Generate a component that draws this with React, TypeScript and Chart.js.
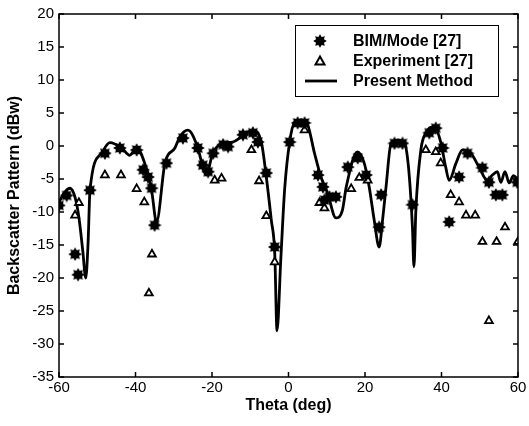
import React, { useEffect, useRef } from 'react';
import { Chart, registerables } from 'chart.js';

Chart.register(...registerables);

// ---- Data ----
const lineTheta = [
  -60, -58.5, -57.1, -55.8, -54.8, -53.8, -53.0, -52.4, -51.9, -48.9, -46.7, -43.6, -41.5, -39.7,
  -37.6, -35.8, -34.5, -32.3, -29.7, -28.4, -26.3, -23.7, -22.4, -21.5, -19.8, -17.2, -14.6,
  -12.3, -9.4, -7.1, -5.8, -4.5, -3.6, -3.0, -2.0, -1.0, 0.3, 1.6, 3.3, 5.0, 6.8, 8.5, 10.2,
  12.4, 14.1, 15.1, 18.0, 19.8, 21.1, 22.4, 23.7, 24.6, 25.5, 26.8, 28.4, 30.0, 30.7, 31.6,
  32.4, 32.8, 33.3, 34.6, 35.9, 38.1, 39.8, 41.1, 42.0, 43.8, 45.5, 47.7, 49.8, 52.0, 53.3,
  54.6, 55.5, 56.6, 57.7, 58.8, 60,
];
const lineDb = [
  -8.5, -7.0, -6.4, -7.8, -10.8, -15.8, -20.0, -14.7, -6.7, -1.1, 0.5, -0.3, -1.4, -0.3,
  -2.6, -6.7, -11.5, -2.6, -0.3, 1.4, 2.4, -0.3, -3.2, -4.4, -1.1, 0.4, 0.6,
  1.4, 2.4, 0.6, -4.7, -11.2, -16.2, -28.0, -17.0, -6.5, 0.6, 3.6, 3.9, 3.2, -1.1, -4.7, -7.1,
  -10.9, -9.7, -6.2, -0.9, -2.6, -6.2, -11.2, -15.3, -11.2, -6.2, 0.4, 0.9, 0.6, -0.2, -4.7,
  -12.3, -18.3, -9.7, -0.6, 2.0, 2.9, 0.6, -3.2, -5.2, -2.6, -0.6, -1.1, -3.2, -5.2, -4.4,
  -3.9, -5.5, -3.9, -5.6, -4.5, -5.2,
];

const bimTheta = [
  -60, -58, -55.8, -55, -51.9, -48, -44.1, -39.7, -38, -36.7, -35.8, -35, -31.9, -27.6, -23.7,
  -22.4, -21.0, -19.7, -17.1, -15.8, -11.9, -9.3, -8.0, -5.8, -3.6, 0.3, 2.4, 4.2, 7.7, 9.0,
  9.4, 10.7, 12.4, 15.5, 18.1, 20.3, 23.7, 24.2, 27.7, 29.8, 32.4, 36.8, 38.5, 40.3, 42.0,
  44.6, 46.8, 50.7, 52.4, 54.2, 55.9, 59.8,
];
const bimDb = [
  -9, -7.5, -16.4, -19.5, -6.7, -1.1, -0.3, -0.6, -3.6, -4.7, -6.4, -12, -2.6, 1.2, -0.3,
  -2.9, -3.9, -1.1, 0.2, -0.1, 1.7, 2.0, 0.6, -4.1, -15.3, 0.6, 3.5, 3.5, -4.4, -6.2,
  -8.2, -7.7, -7.7, -3.2, -1.8, -4.4, -12.3, -7.4, 0.4, 0.4, -8.9, 2.0, 2.7, -0.3, -11.5,
  -4.7, -1.1, -3.3, -5.5, -7.4, -7.4, -5.5,
];

const expTheta = [
  -55.8, -54.8, -48, -43.8, -39.7, -37.7, -36.5, -35.7, -19.3, -17.5, -9.7, -7.7, -5.8, -3.6,
  4.2, 8.1, 9.4, 16.4, 18.5, 20.7, 35.9, 38.5, 39.8, 42.4, 44.6, 46.4, 48.8, 50.7, 52.4,
  54.4, 56.6, 60,
];
const expDb = [
  -10.5, -8.6, -4.4, -4.4, -6.5, -8.5, -22.3, -16.4, -5.2, -4.9, -0.6, -5.3, -10.6, -17.6,
  2.4, -8.6, -9.4, -6.5, -4.8, -5.2, -0.6, -0.9, -2.6, -7.4, -8.5, -10.5, -10.5, -14.5, -26.5,
  -14.5, -12.3, -14.5,
];

const xTicks = [-60, -40, -20, 0, 20, 40, 60];
const yTicks = [20, 15, 10, 5, 0, -5, -10, -15, -20, -25, -30, -35];

const seriesLabels = ['BIM/Mode [27]', 'Experiment [27]', 'Present Method'];

const FONT = "'Liberation Sans', Arial, Helvetica, sans-serif";

function makeStar(): HTMLCanvasElement {
  const c = document.createElement('canvas');
  c.width = 14;
  c.height = 14;
  const g = c.getContext('2d')!;
  g.fillStyle = '#000';
  g.beginPath();
  const cx = 7, cy = 7, ro = 6.8, ri = 4.3;
  for (let i = 0; i < 16; i++) {
    const r = i % 2 === 0 ? ro : ri;
    const a = (Math.PI / 8) * i - Math.PI / 2;
    const px = cx + r * Math.cos(a);
    const py = cy + r * Math.sin(a);
    if (i === 0) g.moveTo(px, py);
    else g.lineTo(px, py);
  }
  g.closePath();
  g.fill();
  return c;
}

const boxTicksPlugin = {
  id: 'boxTicks',
  afterDatasetsDraw(chart: any) {
    const { ctx, chartArea: a, scales } = chart;
    ctx.save();
    ctx.strokeStyle = '#000';
    ctx.lineWidth = 1.5;
    ctx.strokeRect(a.left, a.top, a.right - a.left, a.bottom - a.top);
    const L = 5;
    ctx.beginPath();
    xTicks.forEach((v) => {
      const px = scales.x.getPixelForValue(v);
      ctx.moveTo(px, a.bottom);
      ctx.lineTo(px, a.bottom - L);
      ctx.moveTo(px, a.top);
      ctx.lineTo(px, a.top + L);
    });
    yTicks.forEach((v) => {
      const py = scales.y.getPixelForValue(v);
      ctx.moveTo(a.left, py);
      ctx.lineTo(a.left + L, py);
      ctx.moveTo(a.right, py);
      ctx.lineTo(a.right - L, py);
    });
    ctx.stroke();
    ctx.restore();
  },
};

const legendBoxPlugin = {
  id: 'legendBox',
  afterDraw(chart: any) {
    const { ctx, chartArea: a } = chart;
    const left = a.right - 223;
    const top = a.top + 11;
    const w = 203;
    const h = 71;
    ctx.save();
    ctx.fillStyle = '#fff';
    ctx.fillRect(left, top, w, h);
    ctx.strokeStyle = '#000';
    ctx.lineWidth = 1;
    ctx.strokeRect(left + 0.5, top + 0.5, w, h);
    const ds = chart.data.datasets;
    ds.forEach((d: any, i: number) => {
      const y = top + 16 + i * 20;
      const mx = left + 25;
      if (i === 0) {
        ctx.drawImage(d.pointStyle, mx - 7, y - 7);
      } else if (i === 1) {
        ctx.beginPath();
        ctx.moveTo(mx, y - 4.5);
        ctx.lineTo(mx + 4.5, y + 3.5);
        ctx.lineTo(mx - 4.5, y + 3.5);
        ctx.closePath();
        ctx.fillStyle = '#fff';
        ctx.fill();
        ctx.lineWidth = 2;
        ctx.stroke();
      } else {
        ctx.beginPath();
        ctx.lineWidth = 2.8;
        ctx.moveTo(left + 10, y);
        ctx.lineTo(left + 42, y);
        ctx.stroke();
      }
      ctx.fillStyle = '#000';
      ctx.font = `bold 16px ${FONT}`;
      ctx.textBaseline = 'middle';
      ctx.textAlign = 'left';
      ctx.fillText(d.label, left + 58, y + 1);
    });
    ctx.restore();
  },
};

export default function App() {
  const ref = useRef<HTMLCanvasElement>(null);

  useEffect(() => {
    document.body.style.margin = '0';
    const canvas = ref.current!;
    const star = makeStar();
    const chart = new Chart(canvas, {
      type: 'line',
      data: {
        datasets: [
          {
            label: seriesLabels[0],
            data: bimTheta.map((x, i) => ({ x, y: bimDb[i] })),
            showLine: false,
            pointStyle: star as any,
            pointRadius: 7,
            borderColor: '#000',
            backgroundColor: '#000',
            order: 0,
          },
          {
            label: seriesLabels[1],
            data: expTheta.map((x, i) => ({ x, y: expDb[i] })),
            showLine: false,
            pointStyle: 'triangle',
            pointRadius: 4.5,
            pointBorderWidth: 1.8,
            borderColor: '#000',
            pointBackgroundColor: '#fff',
            backgroundColor: '#fff',
            order: 1,
          },
          {
            label: seriesLabels[2],
            data: lineTheta.map((x, i) => ({ x, y: lineDb[i] })),
            borderColor: '#000',
            borderWidth: 2.8,
            pointRadius: 0,
            fill: false,
            cubicInterpolationMode: 'monotone',
            order: 2,
          },
        ],
      },
      options: {
        responsive: false,
        animation: false,
        devicePixelRatio: 1,
        layout: { padding: { top: 14, right: 11, left: 0, bottom: 0 } },
        plugins: {
          legend: { display: false },
          tooltip: { enabled: false },
        },
        scales: {
          x: {
            type: 'linear',
            min: -60,
            max: 60,
            afterBuildTicks: (s: any) => {
              s.ticks = xTicks.map((v) => ({ value: v }));
            },
            ticks: {
              color: '#000',
              font: { family: FONT, size: 15 },
              padding: 2,
              maxRotation: 0,
              autoSkip: false,
            },
            grid: { display: false, drawTicks: false },
            border: { display: false },
            title: {
              display: true,
              text: 'Theta (deg)',
              color: '#000',
              font: { family: FONT, size: 16, weight: 'bold' },
              padding: { top: 0, bottom: 11 },
            },
            afterFit: (s: any) => {
              s.height = 49;
            },
          },
          y: {
            type: 'linear',
            min: -35,
            max: 20,
            afterBuildTicks: (s: any) => {
              s.ticks = yTicks.slice().reverse().map((v) => ({ value: v }));
            },
            ticks: {
              color: '#000',
              font: { family: FONT, size: 15 },
              padding: 5,
              autoSkip: false,
            },
            grid: { display: false, drawTicks: false },
            border: { display: false },
            title: {
              display: true,
              text: 'Backscatter Pattern (dBw)',
              color: '#000',
              font: { family: FONT, size: 16, weight: 'bold' },
              padding: { top: 5, bottom: 0 },
            },
            afterFit: (s: any) => {
              s.width = 59;
            },
          },
        },
      } as any,
      plugins: [boxTicksPlugin, legendBoxPlugin],
    });
    return () => chart.destroy();
  }, []);

  return (
    <div style={{ width: 529, height: 426, background: '#fff' }}>
      <canvas ref={ref} width={529} height={426} />
    </div>
  );
}
